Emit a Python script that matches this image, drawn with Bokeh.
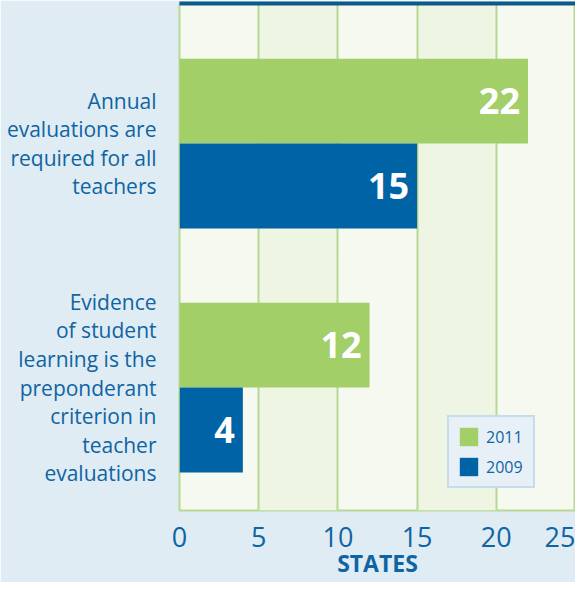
from bokeh.plotting import figure
from bokeh.models import Range1d, ColumnDataSource, LinearAxis, FixedTicker
from bokeh.transform import dodge
from bokeh.embed import file_html
from bokeh.resources import INLINE
from bokeh.core.properties import value

# ---- data ----
categories = [
    "Evidence\nof student\nlearning is the\npreponderant\ncriterion in\nteacher\nevaluations",
    "Annual\nevaluations are\nrequired for all\nteachers",
]
cat_pos = [0, 1]
states_2011 = [12, 22]
states_2009 = [4, 15]
series_names = ["2011", "2009"]
x_ticks = [0, 5, 10, 15, 20, 25]

GREEN = "#a2cf67"
BLUE = "#0063a6"
TEXT_BLUE = "#0f64a3"
FONT = "Open Sans"

src = ColumnDataSource(dict(
    pos=cat_pos,
    v2011=states_2011,
    v2009=states_2009,
    t2011=[str(v) for v in states_2011],
    t2009=[str(v) for v in states_2009],
))

p = figure(width=575, height=582, x_range=Range1d(0, 25), y_range=Range1d(-0.504, 1.574),
           output_backend="svg", toolbar_location=None,
           min_border_left=179, min_border_right=0, min_border_top=3, min_border_bottom=72)

p.border_fill_color = "#dfecf3"
p.background_fill_color = "#f6f9ef"
p.outline_line_color = "#b7d795"
p.outline_line_width = 2

OFF = 0.174
H = 0.348
p.hbar(y=dodge("pos", OFF, range=p.y_range), left=0, right="v2011", height=H,
       fill_color=GREEN, line_color=None, legend_label=series_names[0], source=src)
p.hbar(y=dodge("pos", -OFF, range=p.y_range), left=0, right="v2009", height=H,
       fill_color=BLUE, line_color=None, legend_label=series_names[1], source=src)

for col, off in (("2011", OFF), ("2009", -OFF)):
    p.text(x="v" + col, y=dodge("pos", off, range=p.y_range), text="t" + col, source=src,
           x_offset=-8, text_align="right", text_baseline="middle", text_color="white",
           text_font=value(FONT), text_font_style="bold", text_font_size="36px")

# top header rule (an empty axis above the frame)
top_rule = LinearAxis(ticker=FixedTicker(ticks=[]), axis_line_color="#0a5a8c",
                      axis_line_width=4, major_tick_line_color=None,
                      minor_tick_line_color=None, major_label_text_font_size="0px")
p.add_layout(top_rule, "above")

# grid / bands
p.ygrid.grid_line_color = None
p.xgrid.ticker = x_ticks
p.xgrid.grid_line_color = "#b7d795"
p.xgrid.grid_line_width = 2
p.xgrid.band_fill_color = "#eef5e3"
p.xgrid.band_fill_alpha = 1.0

# x axis
xa = p.below[0]
xa.ticker = x_ticks
xa.axis_line_color = None
xa.major_tick_line_color = None
xa.minor_tick_line_color = None
xa.major_label_text_font = FONT
xa.major_label_text_font_size = "27px"
xa.major_label_text_color = TEXT_BLUE
xa.major_label_standoff = 10
xa.axis_label = "STATES"
xa.axis_label_text_font = FONT
xa.axis_label_text_font_style = "bold"
xa.axis_label_text_font_size = "23px"
xa.axis_label_text_color = TEXT_BLUE
xa.axis_label_standoff = -3

# y axis
p.yaxis.ticker = cat_pos
p.yaxis.major_label_overrides = {pos: lab for pos, lab in zip(cat_pos, categories)}
p.yaxis.axis_line_color = None
p.yaxis.major_tick_line_color = None
p.yaxis.minor_tick_line_color = None
p.yaxis.major_label_text_font = FONT
p.yaxis.major_label_text_font_size = "21px"
p.yaxis.major_label_text_color = TEXT_BLUE
p.yaxis.major_label_text_line_height = 1.02
p.yaxis.major_label_standoff = 17

# legend
lg = p.legend[0]
lg.location = (268, 22)
lg.glyph_width = 23
lg.glyph_height = 23
lg.label_height = 23
lg.label_width = 39
lg.spacing = 7
lg.padding = 8
lg.margin = 0
lg.label_standoff = 6
lg.label_text_font = FONT
lg.label_text_font_size = "16px"
lg.label_text_color = TEXT_BLUE
lg.background_fill_color = "#e8f0f7"
lg.background_fill_alpha = 1.0
lg.border_line_color = "#a6c8df"
lg.border_line_width = 2

open("out.html", "w").write(file_html(p, INLINE))
